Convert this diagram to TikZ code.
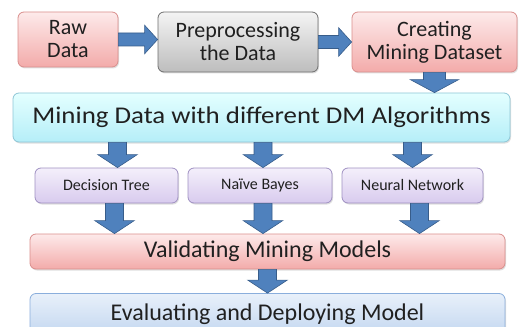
\documentclass[tikz,border=0pt]{standalone}
\usepackage{fontspec}
\setmainfont{Carlito}
\usetikzlibrary{positioning, calc, shadows}

\definecolor{txtgray}{HTML}{202020}
\definecolor{redtop}{HTML}{FDEAEA}
\definecolor{redbot}{HTML}{F3ABAA}
\definecolor{redline}{HTML}{D98E8C}
\definecolor{greytop}{HTML}{F4F4F4}
\definecolor{greybot}{HTML}{BDBDBD}
\definecolor{greyline}{HTML}{6F6F6F}
\definecolor{cyantop}{HTML}{E4FFFF}
\definecolor{cyanbot}{HTML}{B5EEF8}
\definecolor{cyanline}{HTML}{8EC6D6}
\definecolor{lavtop}{HTML}{F4EFFB}
\definecolor{lavbot}{HTML}{D8CBEE}
\definecolor{lavline}{HTML}{9F90C2}
\definecolor{bluetop}{HTML}{E8F0FA}
\definecolor{bluebot}{HTML}{C3D7F0}
\definecolor{blueline}{HTML}{8AAEDC}
\definecolor{arrowfill}{HTML}{4F81BD}
\definecolor{arrowline}{HTML}{385D8A}

\tikzset{
  box/.style={rectangle, rounded corners=6pt, line width=0.8pt, align=center,
    text=txtgray, inner sep=2pt,
    drop shadow={opacity=0.25, shadow xshift=1pt, shadow yshift=-1.5pt}},
  redbox/.style={box, draw=redline, top color=redtop, bottom color=redbot},
  greybox/.style={box, draw=greyline, top color=greytop, bottom color=greybot},
  cyanbox/.style={box, draw=cyanline, top color=cyantop, bottom color=cyanbot},
  lavbox/.style={box, draw=lavline, top color=lavtop, bottom color=lavbot},
  bluebox/.style={box, draw=blueline, top color=bluetop, bottom color=bluebot},
  topfont/.style={font=\fontsize{22}{23}\selectfont},
  bigfont/.style={font=\fontsize{24}{26}\selectfont},
  smallfont/.style={font=\fontsize{16}{18}\selectfont},
  fatarrow/.style={fill=arrowfill, draw=arrowline, line width=0.6pt, line join=miter}
}

% block arrow from #2 to #3, #1 = half width of the shaft
\newcommand{\blockarrow}[3][9]{%
  \filldraw[fatarrow] let \p1=(#2), \p2=(#3),
    \n1={atan2(\y2-\y1,\x2-\x1)}, \n2={veclen(\x2-\x1,\y2-\y1)-13pt},
    \n3={2.2*#1*1pt}, \n4={#1*1pt} in
    ($(\p1)+(\n1+90:\n4)$) -- ($(\p1)+(\n1:\n2)+(\n1+90:\n4)$)
    -- ($(\p1)+(\n1:\n2)+(\n1+90:\n3)$) -- (\p2)
    -- ($(\p1)+(\n1:\n2)+(\n1-90:\n3)$) -- ($(\p1)+(\n1:\n2)+(\n1-90:\n4)$)
    -- ($(\p1)+(\n1-90:\n4)$) -- cycle;
}

\begin{document}
\begin{tikzpicture}[x=1pt, y=1pt]
    \clip (0,0) rectangle (521,-326);

    % first row
    \node (raw) [redbox, topfont, minimum width=100, minimum height=55] at (68,-39.5) {Raw\\Data};
    \node (pre) [greybox, topfont, minimum width=160, minimum height=60] at (238,-42) {Preprocessing\\the Data};
    \node (cre) [redbox, topfont, minimum width=165, minimum height=60] at (434.5,-42) {Creating\\Mining Dataset};

    \node (mine) [cyanbox, bigfont, minimum width=497, minimum height=49] at (261.5,-117.5) {\scalebox{1.12}[1]{Mining Data with different DM Algorithms}};

    % algorithms
    \node (dt) [lavbox, smallfont, minimum width=143, minimum height=35] at (106.5,-185.5) {Decision Tree};
    \node (nb) [lavbox, smallfont, minimum width=144, minimum height=35] at (260,-185.5) {Naïve Bayes};
    \node (nn) [lavbox, smallfont, minimum width=141, minimum height=35] at (412.5,-185.5) {Neural Network};

    \node (val) [redbox, bigfont, minimum width=475, minimum height=35] at (267.5,-251.5) {Validating Mining Models};
    \node (eval) [bluebox, bigfont, minimum width=475, minimum height=42] at (267.5,-314.5) {Evaluating and Deploying Model};

    \blockarrow[6.5]{raw.east}{raw.east -| pre.west}
    \blockarrow[6.5]{pre.east}{pre.east -| cre.west}
    \blockarrow[11]{cre.south}{cre.south |- mine.north}
    \foreach \b/\up/\dn in {dt/11/8, nb/3/3, nn/0/7} {
        \coordinate (u\b) at ($(\b.north)+(\up,0)$);
        \coordinate (d\b) at ($(\b.south)+(\dn,0)$);
        \blockarrow[9]{u\b |- mine.south}{u\b}
        \blockarrow[9]{d\b}{d\b |- val.north}
    }
    \blockarrow[9]{val.south}{val.south |- eval.north}
\end{tikzpicture}
\end{document}
